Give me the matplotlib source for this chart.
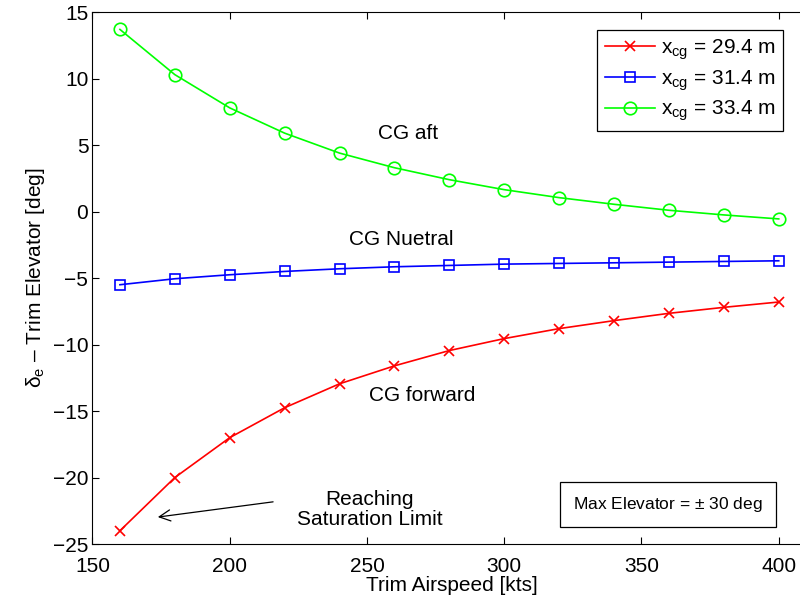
import numpy as np
import matplotlib
matplotlib.use('Agg')
import matplotlib.pyplot as plt

plt.rcParams['font.family'] = ['Liberation Sans', 'DejaVu Sans']
plt.rcParams['mathtext.fontset'] = 'custom'
plt.rcParams['mathtext.rm'] = 'Liberation Sans'
plt.rcParams['mathtext.default'] = 'regular'

# trim airspeed [kts]
airspeed = [160, 180, 200, 220, 240, 260, 280, 300, 320, 340, 360, 380, 400]

# trim elevator [deg] for each cg position
elev_fwd = [-24.0, -20.0, -17.0, -14.75, -12.95, -11.6, -10.45, -9.55, -8.8, -8.2, -7.65, -7.2, -6.8]
elev_neutral = [-5.5, -5.05, -4.75, -4.5, -4.3, -4.15, -4.05, -3.95, -3.9, -3.85, -3.8, -3.75, -3.7]
elev_aft = [13.7, 10.3, 7.8, 5.9, 4.4, 3.3, 2.4, 1.65, 1.05, 0.55, 0.1, -0.25, -0.55]

labels = [r'$x_{cg}$ = 29.4 m', r'$x_{cg}$ = 31.4 m', r'$x_{cg}$ = 33.4 m']

fig = plt.figure(figsize=(8, 6.01), dpi=100)
ax = fig.add_axes([0.1156, 0.0948, 0.899, 0.885])

ax.plot(airspeed, elev_fwd, color=(1, 0, 0), marker='x', ms=7, mew=1.2, lw=1.2, label=labels[0])
ax.plot(airspeed, elev_neutral, color=(0, 0, 1), marker='s', ms=7, mfc='none', mew=1.2, lw=1.2, label=labels[1])
ax.plot(airspeed, elev_aft, color=(0, 1, 0), marker='o', ms=9, mfc='none', mew=1.2, lw=1.2, label=labels[2])

ax.set_xlim(150, 412)
ax.set_ylim(-25, 15)
ax.set_xticks([150, 200, 250, 300, 350, 400])
ax.set_yticks([-25, -20, -15, -10, -5, 0, 5, 10, 15])
ax.tick_params(direction='in', top=True, right=True, labelsize=15, length=5)
ax.tick_params(axis='x', pad=9)
ax.tick_params(axis='y', pad=3)
ax.set_xlabel('Trim Airspeed [kts]', fontsize=15, labelpad=0)
ax.set_ylabel(r'$\delta_e$ – Trim Elevator [deg]', fontsize=15, labelpad=4)

ax.text(265, 5.9, 'CG aft', fontsize=15, ha='center', va='center')
ax.text(262.5, -2.1, 'CG Nuetral', fontsize=15, ha='center', va='center')
ax.text(270, -13.8, 'CG forward', fontsize=15, ha='center', va='center')
ax.text(251, -22.4, 'Reaching\nSaturation Limit', fontsize=15, ha='center', va='center', linespacing=1.05)
ax.annotate('', xy=(172.8, -23.0), xytext=(216.8, -21.8),
            arrowprops=dict(arrowstyle='->', color='black', lw=0.9, mutation_scale=20))
ax.text(359.6, -22.05, r'Max Elevator = $\pm$ 30 deg', fontsize=12.5, ha='center', va='center',
        bbox=dict(boxstyle='square,pad=0.75', fc='white', ec='black', lw=0.9))

leg = ax.legend(loc='upper right', bbox_to_anchor=(783 / 800, 1 - 30 / 601),
                bbox_transform=fig.transFigure, borderaxespad=0, fontsize=15,
                fancybox=False, framealpha=1, edgecolor='black', handlelength=2.4,
                handletextpad=0.3, borderpad=0.35, labelspacing=0.3)
leg.get_frame().set_linewidth(0.9)

fig.savefig('out.png', dpi=100)
